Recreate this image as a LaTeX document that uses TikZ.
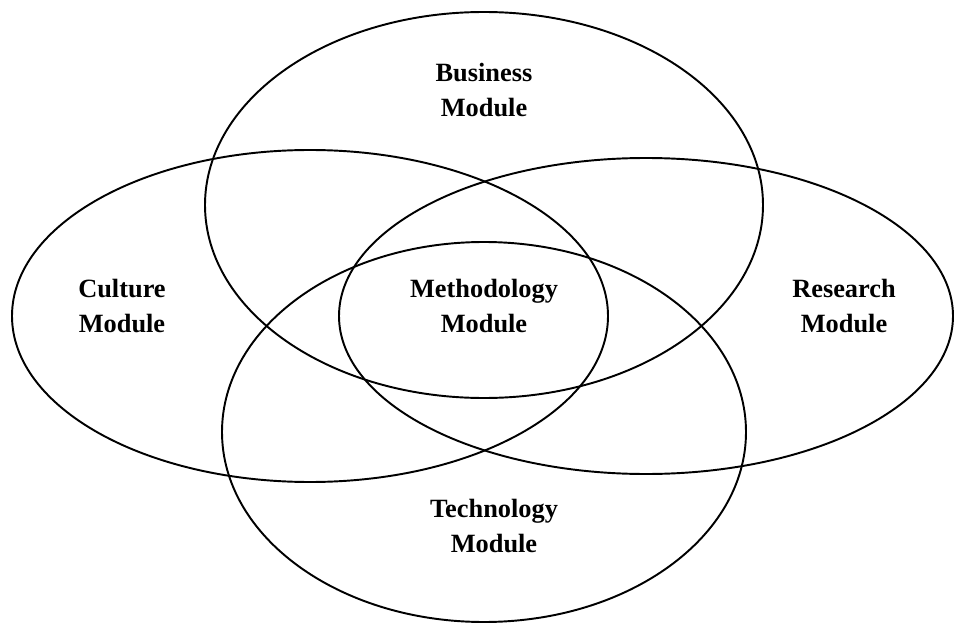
\documentclass[tikz,border=0pt]{standalone}
\usepackage{fontspec}
\setmainfont{Liberation Serif}
\usetikzlibrary{shapes}
\tikzset{
		ring/.style={draw,line width=1.1pt},
		module text/.style={align=center,font=\fontsize{15}{19.4}\selectfont\bfseries}
	}

\begin{document}
\begin{tikzpicture}[x=0.02cm,y=-0.02cm]
					\useasboundingbox (0,0) rectangle (954,625);
					\coordinate (bus) at (484,205);
					\coordinate (cul) at (310,316);
					\coordinate (res) at (646,316);
					\coordinate (tec) at (484,432);

					\draw[ring] (bus) ellipse [x radius=279, y radius=193];
					\draw[ring] (cul) ellipse [x radius=298, y radius=166];
					\draw[ring] (res) ellipse [x radius=307, y radius=158];
					\draw[ring] (tec) ellipse [x radius=262, y radius=190];

					\node[module text] (busl) at (484,90)  {Business\\Module};
					\node[module text] (cull) at (122,306) {Culture\\Module};
					\node[module text] (metl) at (484,306) {Methodology\\Module};
					\node[module text] (resl) at (844,306) {Research\\Module};
					\node[module text] (tecl) at (494,526) {Technology\\Module};
				\end{tikzpicture}
\end{document}
